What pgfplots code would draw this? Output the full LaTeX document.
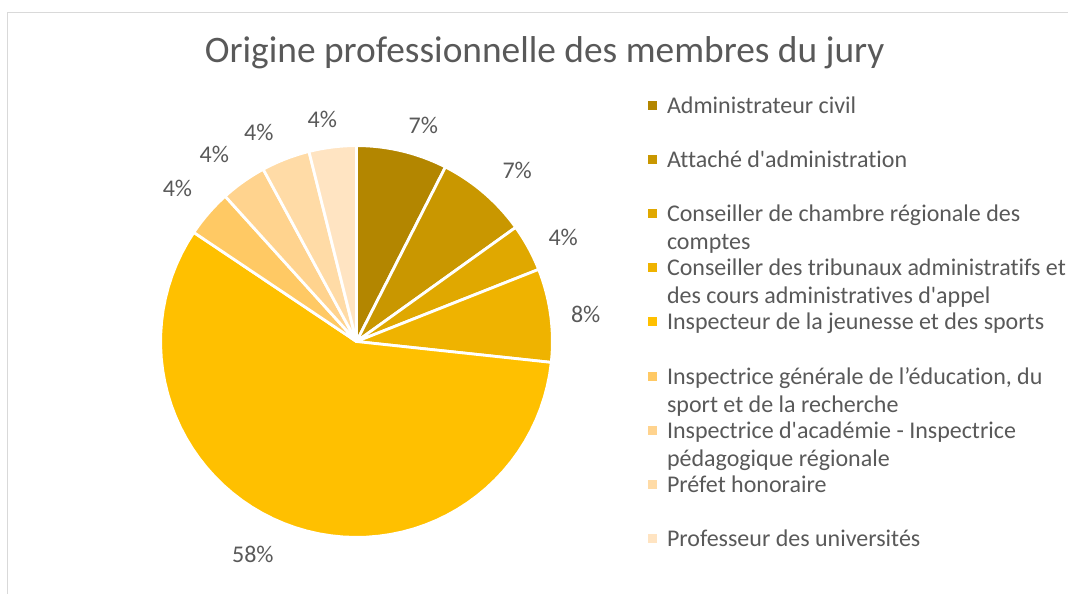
\documentclass[border=0pt]{standalone}
\usepackage{pgfplots}
\pgfplotsset{compat=1.18}
\usepackage{fontspec}
\setmainfont{Carlito}[Ligatures={TeXOff,NoCommon}]
\definecolor{c1}{HTML}{B38600}
\definecolor{c2}{HTML}{C99700}
\definecolor{c3}{HTML}{E0A800}
\definecolor{c4}{HTML}{EFB300}
\definecolor{c5}{HTML}{FFC000}
\definecolor{c6}{HTML}{FFC964}
\definecolor{c7}{HTML}{FFD38E}
\definecolor{c8}{HTML}{FFDBA6}
\definecolor{c9}{HTML}{FFE4C2}
\definecolor{txt}{HTML}{595959}
\definecolor{frame}{HTML}{D9D9D9}
% values (percent) of the slices, clockwise from the top
% 7.5, 7.6, 3.9, 7.7, 57.7, 3.9, 3.8, 4.0, 3.8
\newcommand\slice[3]{%
  \addplot[fill=#3, draw=white, line width=1.4pt, line join=round, domain=#1*3.6:#2*3.6, samples=60, variable=\t]
    ({356.7+196*sin(\t)},{252.3+196*cos(\t)}) -- (axis cs:356.7,252.3) -- cycle;}
\newcommand\leg[3]{% baseline y, colour, text
  \fill[#2] (axis cs:648,#1+3.5) rectangle (axis cs:657,#1+12.5);
  \node[anchor=base west, inner sep=0pt, font=\fontsize{12pt}{14pt}\selectfont, text=txt] at (axis cs:667,#1) {#3};}
\newcommand\legline[2]{%
  \node[anchor=base west, inner sep=0pt, font=\fontsize{12pt}{14pt}\selectfont, text=txt] at (axis cs:667,#1) {#2};}
\newcommand\pct[3]{%
  \node[anchor=center, inner sep=0pt, font=\fontsize{12pt}{14pt}\selectfont, text=txt] at (axis cs:#1,#2) {#3};}
\begin{document}
\begin{tikzpicture}
\begin{axis}[
  scale only axis, width=534.5pt, height=297pt,
  xmin=0, xmax=1069, ymin=0, ymax=594,
  hide axis, clip=false,
]
\path (axis cs:0,0) rectangle (axis cs:1069,594);
\draw[frame, line width=0.6pt] (axis cs:7.5,0) -- (axis cs:7.5,581.5) -- (axis cs:1069,581.5);
% slices: cumulative start and end in percent
\slice{0}{7.5}{c1}
\slice{7.5}{15.1}{c2}
\slice{15.1}{19.0}{c3}
\slice{19.0}{26.7}{c4}
\slice{26.7}{84.4}{c5}
\slice{84.4}{88.3}{c6}
\slice{88.3}{92.1}{c7}
\slice{92.1}{96.1}{c8}
\slice{96.1}{100}{c9}
% data labels
\pct{423.5}{469}{7\%}
\pct{517.5}{423}{7\%}
\pct{563.5}{356.5}{4\%}
\pct{586}{279}{8\%}
\pct{253}{39}{58\%}
\pct{177.5}{405}{4\%}
\pct{214.5}{439.3}{4\%}
\pct{259}{461.5}{4\%}
\pct{322.5}{475}{4\%}
% title
\node[anchor=base, inner sep=0pt, font=\fontsize{18.7pt}{22pt}\selectfont, text=txt] at (axis cs:545,531.3) {Origine professionnelle des membres du jury};
% legend
\leg{480.7}{c1}{Administrateur civil}
\leg{426.5}{c2}{Attaché d'administration}
\leg{372.3}{c3}{Conseiller de chambre régionale des}
\legline{344.3}{comptes}
\leg{318.1}{c4}{Conseiller des tribunaux administratifs et}
\legline{290.1}{des cours administratives d'appel}
\leg{263.9}{c5}{Inspecteur de la jeunesse et des sports}
\leg{209.7}{c6}{Inspectrice générale de l’éducation, du}
\legline{181.7}{sport et de la recherche}
\leg{155.5}{c7}{Inspectrice d'académie - Inspectrice}
\legline{127.5}{pédagogique régionale}
\leg{101.3}{c8}{Préfet honoraire}
\leg{47.1}{c9}{Professeur des universités}
\end{axis}
\end{tikzpicture}
\end{document}
